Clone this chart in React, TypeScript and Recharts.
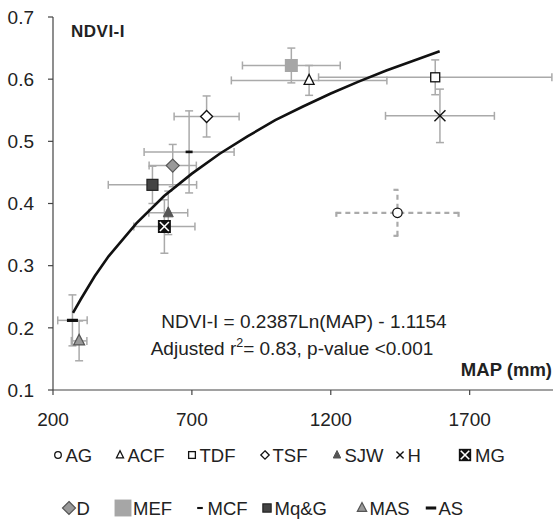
import React from 'react';
import { ScatterChart, Scatter, XAxis, YAxis, ErrorBar } from 'recharts';

// site means (MAP in mm, NDVI-I)
const siteNames = ['AG', 'ACF', 'TDF', 'TSF', 'SJW', 'H', 'MG', 'D', 'MEF', 'MCF', 'Mq&G', 'MAS', 'AS'];
const siteMap = [1440, 1122, 1576, 753, 615, 1593, 601, 631, 1058, 690, 558, 294, 270];
const siteNdvi = [0.385, 0.598, 0.603, 0.54, 0.385, 0.541, 0.363, 0.461, 0.622, 0.483, 0.43, 0.179, 0.212];
const siteMapErr = [220, 280, 420, 117, 70, 196, 110, 85, 176, 162, 159, 28, 53];
const siteNdviErr = [0.037, 0.024, 0.028, 0.033, 0.035, 0.043, 0.043, 0.034, 0.028, 0.066, 0.03, 0.032, 0.041];

// fitted log curve
const curveMap = [272, 300, 350, 400, 500, 600, 700, 800, 900, 1000, 1100, 1200, 1300, 1400, 1500, 1592];
const curveNdvi = [0.224, 0.246, 0.283, 0.315, 0.368, 0.412, 0.448, 0.48, 0.508, 0.534, 0.556, 0.577, 0.596, 0.614, 0.63, 0.645];

const xTicks = [200, 700, 1200, 1700];
const yTicks = [0.1, 0.2, 0.3, 0.4, 0.5, 0.6, 0.7];

const legendRows = [
  ['AG', 'ACF', 'TDF', 'TSF', 'SJW', 'H', 'MG'],
  ['D', 'MEF', 'MCF', 'Mq&G', 'MAS', 'AS'],
];

const FONT = '"Liberation Sans", Arial, Helvetica, sans-serif';
const ERR = '#aaaaaa';

const markerKind: Record<string, string> = {
  AG: 'circleOpen',
  ACF: 'triangleOpen',
  TDF: 'squareOpen',
  TSF: 'diamondOpen',
  SJW: 'triangleDark',
  H: 'cross',
  MG: 'boxCross',
  D: 'diamondGray',
  MEF: 'squareLight',
  MCF: 'dashSmall',
  'Mq&G': 'squareDark',
  MAS: 'triangleGray',
  AS: 'dashWide',
};

// legend layout: icon centre x per row, and marker scale in the legend
const legendIconX = [
  [58, 120, 192, 265, 337, 400, 465],
  [69, 123, 200, 267, 362, 431],
];
const legendRowY = [455, 508];
const legendScale: Record<string, number> = {
  AG: 0.7, ACF: 0.7, TDF: 0.75, TSF: 0.7, SJW: 0.75, H: 0.65, MG: 0.95,
  D: 1.0, MEF: 1.3, MCF: 0.8, 'Mq&G': 0.75, MAS: 0.85, AS: 0.95,
};

const drawMarker = (kind: string, cx: number, cy: number, s = 1) => {
  const k = (v: number) => v * s;
  switch (kind) {
    case 'circleOpen':
      return <circle cx={cx} cy={cy} r={k(4.7)} fill="#fff" stroke="#111" strokeWidth={1.3} />;
    case 'triangleOpen':
      return (
        <polygon
          points={`${cx},${cy - k(6)} ${cx - k(5)},${cy + k(4)} ${cx + k(5)},${cy + k(4)}`}
          fill="#fff"
          stroke="#111"
          strokeWidth={1.3}
        />
      );
    case 'squareOpen':
      return <rect x={cx - k(4.5)} y={cy - k(4.5)} width={k(9)} height={k(9)} fill="#fff" stroke="#111" strokeWidth={1.3} />;
    case 'diamondOpen':
      return (
        <polygon
          points={`${cx},${cy - k(6)} ${cx + k(6)},${cy} ${cx},${cy + k(6)} ${cx - k(6)},${cy}`}
          fill="#fff"
          stroke="#111"
          strokeWidth={1.3}
        />
      );
    case 'triangleDark':
      return (
        <polygon
          points={`${cx},${cy - k(6)} ${cx - k(5)},${cy + k(4)} ${cx + k(5)},${cy + k(4)}`}
          fill="#555"
          stroke="#555"
          strokeWidth={1}
        />
      );
    case 'cross':
      return (
        <g stroke="#111" strokeWidth={1.4}>
          <line x1={cx - k(5.5)} y1={cy - k(5.5)} x2={cx + k(5.5)} y2={cy + k(5.5)} />
          <line x1={cx - k(5.5)} y1={cy + k(5.5)} x2={cx + k(5.5)} y2={cy - k(5.5)} />
        </g>
      );
    case 'boxCross':
      return (
        <g>
          <rect x={cx - k(6.5)} y={cy - k(6.5)} width={k(13)} height={k(13)} fill="#111" />
          <g stroke="#fff" strokeWidth={1.6}>
            <line x1={cx - k(4.5)} y1={cy - k(4.5)} x2={cx + k(4.5)} y2={cy + k(4.5)} />
            <line x1={cx - k(4.5)} y1={cy + k(4.5)} x2={cx + k(4.5)} y2={cy - k(4.5)} />
          </g>
        </g>
      );
    case 'diamondGray':
      return (
        <polygon
          points={`${cx},${cy - k(6.5)} ${cx + k(6.5)},${cy} ${cx},${cy + k(6.5)} ${cx - k(6.5)},${cy}`}
          fill="#999"
          stroke="#555"
          strokeWidth={1.2}
        />
      );
    case 'squareLight':
      return <rect x={cx - k(6.5)} y={cy - k(6.5)} width={k(13)} height={k(13)} fill="#a6a6a6" />;
    case 'dashSmall':
      return <rect x={cx - k(3.5)} y={cy - k(1.3)} width={k(7)} height={k(2.6)} fill="#111" />;
    case 'squareDark':
      return <rect x={cx - k(5.5)} y={cy - k(5.5)} width={k(11)} height={k(11)} fill="#444" stroke="#222" strokeWidth={1.2} />;
    case 'triangleGray':
      return (
        <polygon
          points={`${cx},${cy - k(6.5)} ${cx - k(5.5)},${cy + k(4)} ${cx + k(5.5)},${cy + k(4)}`}
          fill="#999"
          stroke="#555"
          strokeWidth={1.2}
        />
      );
    case 'dashWide':
      return <rect x={cx - k(5.5)} y={cy - k(1.6)} width={k(11)} height={k(3.2)} fill="#111" />;
    default:
      return <g />;
  }
};

const App: React.FC = () => {
  const sites = siteNames.map((name, i) => ({
    name,
    data: [{ map: siteMap[i], ndvi: siteNdvi[i], mapErr: siteMapErr[i], ndviErr: siteNdviErr[i] }],
  }));
  const curve = curveMap.map((m, i) => ({ map: m, ndvi: curveNdvi[i] }));

  return (
    <div style={{ position: 'absolute', left: 0, top: 0, width: 556, height: 521, background: '#fff', fontFamily: FONT, color: '#222' }}>
      <ScatterChart width={556} height={440} margin={{ top: 17, right: 3, bottom: 0, left: 0 }}>
        <XAxis
          type="number"
          dataKey="map"
          domain={[200, 2000]}
          ticks={xTicks}
          allowDataOverflow
          height={50}
          tickSize={5}
          tickMargin={18}
          axisLine={{ stroke: '#444', strokeWidth: 1.2 }}
          tickLine={{ stroke: '#444', strokeWidth: 1.2 }}
          tick={{ fill: '#222', fontSize: 19 }}
        />
        <YAxis
          type="number"
          dataKey="ndvi"
          domain={[0.1, 0.7]}
          ticks={yTicks}
          allowDataOverflow
          width={53}
          tickSize={5}
          tickMargin={14}
          tickFormatter={(v: number) => v.toFixed(1)}
          axisLine={{ stroke: '#444', strokeWidth: 1.2 }}
          tickLine={{ stroke: '#444', strokeWidth: 1.2 }}
          tick={{ fill: '#222', fontSize: 19 }}
        />
        {sites.map((s) => (
          <Scatter
            key={s.name}
            name={s.name}
            data={s.data}
            isAnimationActive={false}
            shape={(p: any) => drawMarker(markerKind[s.name], p.cx, p.cy)}
          >
            <ErrorBar
              dataKey="mapErr"
              direction="x"
              width={4}
              stroke={ERR}
              strokeWidth={s.name === 'AG' ? 2.2 : 1.5}
              strokeDasharray={s.name === 'AG' ? '5 4' : undefined}
            />
            <ErrorBar
              dataKey="ndviErr"
              direction="y"
              width={4}
              stroke={ERR}
              strokeWidth={s.name === 'AG' ? 2.2 : 1.5}
              strokeDasharray={s.name === 'AG' ? '5 4' : undefined}
            />
          </Scatter>
        ))}
        <Scatter
          name="fit"
          data={curve}
          isAnimationActive={false}
          line={{ stroke: '#111', strokeWidth: 2.6 }}
          lineType="joint"
          shape={() => <g />}
        />
      </ScatterChart>

      <svg width={556} height={521} style={{ position: 'absolute', left: 0, top: 0, pointerEvents: 'none' }}>
        <text x={71} y={37} fontSize={17} fontWeight="bold" fill="#222" letterSpacing={0.5}>
          NDVI-I
        </text>
        <text x={552} y={376} fontSize={18.5} fontWeight="bold" fill="#222" textAnchor="end">
          MAP (mm)
        </text>
        <text x={304} y={328} fontSize={19} fill="#222" textAnchor="middle">
          NDVI-I = 0.2387Ln(MAP) - 1.1154
        </text>
        <text x={292} y={355} fontSize={19} fill="#222" textAnchor="middle">
          Adjusted r<tspan fontSize={12.5} dy={-8}>2</tspan>
          <tspan dy={8}>= 0.83, p-value &lt;0.001</tspan>
        </text>

        {legendRows.map((row, ri) =>
          row.map((name, i) => {
            const cx = legendIconX[ri][i];
            const cy = legendRowY[ri];
            const big = name === 'MG' || name === 'MEF';
            return (
              <g key={name}>
                {drawMarker(markerKind[name], cx, cy, legendScale[name])}
                <text x={cx + (big ? 10 : 7.5)} y={cy + 6.5} fontSize={18.5} fill="#222">
                  {name}
                </text>
              </g>
            );
          })
        )}
      </svg>
    </div>
  );
};

export default App;
